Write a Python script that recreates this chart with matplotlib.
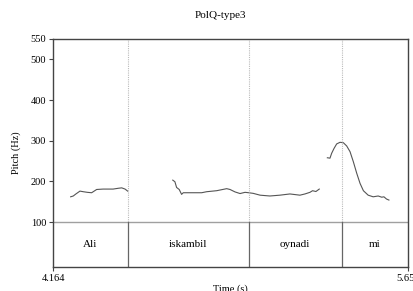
import matplotlib
matplotlib.use('agg')
import matplotlib.pyplot as plt
import numpy as np

# pitch contour (time in s, pitch in Hz), three voiced stretches
t1 = [4.238, 4.249, 4.260, 4.277, 4.291, 4.308, 4.326, 4.347, 4.374, 4.416, 4.438, 4.452, 4.466, 4.477]
f1 = [162, 164, 169, 176, 174.5, 173, 172, 180, 181, 181, 183, 184, 181, 176]

t2 = [4.666, 4.675, 4.682, 4.693, 4.703, 4.710, 4.787, 4.808, 4.850, 4.892, 4.906, 4.927, 4.948,
      4.969, 4.984, 5.003, 5.032, 5.073, 5.115, 5.157, 5.199, 5.220, 5.241, 5.252, 5.266, 5.280]
f2 = [203, 199, 185, 180, 168, 172, 172, 174.5, 177, 182, 180, 174, 170,
      173, 172, 170.5, 166, 164, 166, 169, 166, 169, 173, 177, 175, 181]

t3 = [5.314, 5.325, 5.332, 5.342, 5.353, 5.367, 5.381, 5.395, 5.409, 5.423, 5.437, 5.451,
      5.465, 5.485, 5.506, 5.527, 5.542, 5.551, 5.562, 5.572]
f3 = [258, 257, 269, 281, 292, 296, 295, 287, 273, 248, 220, 195,
      177, 166, 162, 164, 161, 162, 156.5, 154]

# word tier
t_start = 4.164
t_end = 5.652
boundaries = [4.477, 4.984, 5.375]
words = ['Ali', 'iskambil', 'oynadi', 'mi']

yticks = [100, 200, 300, 400, 500, 550]

plt.rcParams['font.family'] = ['Liberation Serif', 'DejaVu Serif']

fig = plt.figure(figsize=(4.14, 2.91), dpi=100)
ax = fig.add_axes([53 / 414, 1 - 267 / 291, 355 / 414, 228 / 291])

tier_bottom = -10.6
ax.set_xlim(t_start, t_end)
ax.set_ylim(tier_bottom, 550)

for t, f in [(t1, f1), (t2, f2), (t3, f3)]:
    ax.plot(t, f, color='#555555', lw=0.8)

# tier separator
ax.axhline(100, color='#a0a0a0', lw=1.0)

# boundaries: dotted in the pitch area, solid in the tier
for b in boundaries:
    ax.plot([b, b], [100, 550], color='#bbbbbb', lw=0.8, ls=(0, (1, 1)))
    ax.plot([b, b], [tier_bottom, 100], color='#666666', lw=0.9)

edges = [t_start] + boundaries + [t_end]
for i, w in enumerate(words):
    ax.text((edges[i] + edges[i + 1]) / 2, (100 + tier_bottom) / 2, w,
            ha='center', va='center', fontsize=8)

for s in ax.spines.values():
    s.set_color('#444444')
    s.set_linewidth(1.0)

ax.set_yticks(yticks)
ax.set_yticklabels([str(v) for v in yticks], fontsize=7.5)
ax.set_xticks([t_start, t_end])
ax.set_xticklabels(['4.164', '5.652'], fontsize=7.5)
ax.tick_params(length=3, width=0.8, color='#444444', pad=2)
ax.set_ylabel('Pitch (Hz)', fontsize=7.5, labelpad=7)
ax.set_xlabel('Time (s)', fontsize=7.5, labelpad=1)

fig.text(220 / 414, 1 - 15 / 291, 'PolQ-type3', ha='center', va='center', fontsize=8)

fig.savefig('out.png', dpi=100)
